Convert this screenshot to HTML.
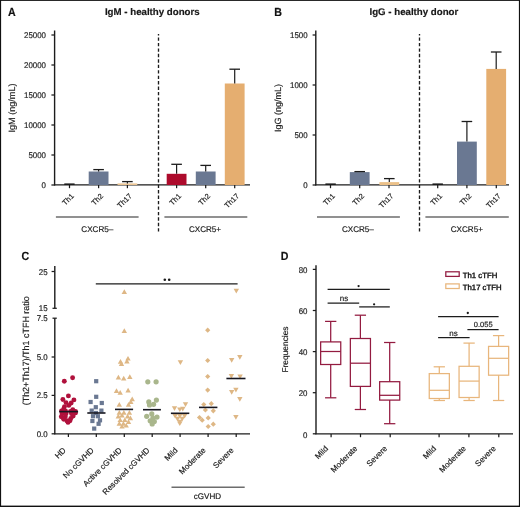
<!DOCTYPE html>
<html><head><meta charset="utf-8"><style>
html,body{margin:0;padding:0;background:#fff;}
svg{display:block;will-change:transform;}
text{font-family:"Liberation Sans", sans-serif;text-rendering:geometricPrecision;stroke-width:0.18px;}
</style></head><body>
<svg width="520" height="507" viewBox="0 0 520 507">
<rect x="0" y="0" width="520" height="507" fill="#fff"/>
<text x="0" y="0" transform="translate(7.9 15.9) scale(0.9 1)" font-size="11.8" text-anchor="start" font-weight="bold" fill="#111" stroke="#111" >A</text>
<text x="152.3" y="14.6" font-size="9.7" text-anchor="middle" font-weight="bold" fill="#1a1a1a" stroke="#1a1a1a" >IgM - healthy donors</text>
<line x1="54.6" y1="30.5" x2="54.6" y2="185.5" stroke="#1c1c1c" stroke-width="1.4" />
<line x1="54.1" y1="184.9" x2="250" y2="184.9" stroke="#1c1c1c" stroke-width="1.35" />
<line x1="51.4" y1="35" x2="54.6" y2="35" stroke="#1c1c1c" stroke-width="1.25" />
<text x="0" y="0" transform="translate(46 38.2) scale(0.95 1)" font-size="8.3" text-anchor="end" font-weight="normal" fill="#222" stroke="#222" >25000</text>
<line x1="51.4" y1="65" x2="54.6" y2="65" stroke="#1c1c1c" stroke-width="1.25" />
<text x="0" y="0" transform="translate(46 68.2) scale(0.95 1)" font-size="8.3" text-anchor="end" font-weight="normal" fill="#222" stroke="#222" >20000</text>
<line x1="51.4" y1="95" x2="54.6" y2="95" stroke="#1c1c1c" stroke-width="1.25" />
<text x="0" y="0" transform="translate(46 98.2) scale(0.95 1)" font-size="8.3" text-anchor="end" font-weight="normal" fill="#222" stroke="#222" >15000</text>
<line x1="51.4" y1="125" x2="54.6" y2="125" stroke="#1c1c1c" stroke-width="1.25" />
<text x="0" y="0" transform="translate(46 128.2) scale(0.95 1)" font-size="8.3" text-anchor="end" font-weight="normal" fill="#222" stroke="#222" >10000</text>
<line x1="51.4" y1="155" x2="54.6" y2="155" stroke="#1c1c1c" stroke-width="1.25" />
<text x="0" y="0" transform="translate(46 158.2) scale(0.95 1)" font-size="8.3" text-anchor="end" font-weight="normal" fill="#222" stroke="#222" >5000</text>
<line x1="51.4" y1="185" x2="54.6" y2="185" stroke="#1c1c1c" stroke-width="1.25" />
<text x="0" y="0" transform="translate(46 188.2) scale(0.95 1)" font-size="8.3" text-anchor="end" font-weight="normal" fill="#222" stroke="#222" >0</text>
<text x="14.8" y="108" font-size="9.1" text-anchor="middle" font-weight="normal" fill="#222" stroke="#222" transform="rotate(-90 14.8 108)" >IgM (ng/mL)</text>
<line x1="158.5" y1="34" x2="158.5" y2="231.5" stroke="#1c1c1c" stroke-width="1.35" stroke-dasharray="3.35 2.1" stroke-dashoffset="1.95"/>
<line x1="69.5" y1="185" x2="69.5" y2="188.2" stroke="#1c1c1c" stroke-width="1.25" />
<line x1="98.6" y1="185" x2="98.6" y2="188.2" stroke="#1c1c1c" stroke-width="1.25" />
<line x1="127.4" y1="185" x2="127.4" y2="188.2" stroke="#1c1c1c" stroke-width="1.25" />
<line x1="176.6" y1="185" x2="176.6" y2="188.2" stroke="#1c1c1c" stroke-width="1.25" />
<line x1="205.7" y1="185" x2="205.7" y2="188.2" stroke="#1c1c1c" stroke-width="1.25" />
<line x1="234.7" y1="185" x2="234.7" y2="188.2" stroke="#1c1c1c" stroke-width="1.25" />
<line x1="64.3" y1="184.2" x2="74.6" y2="184.2" stroke="#1c1c1c" stroke-width="1.6" />
<rect x="88.69999999999999" y="171.5" width="19.8" height="13.5" fill="#6a7892"/>
<line x1="98.6" y1="169.6" x2="98.6" y2="171.5" stroke="#1c1c1c" stroke-width="1.2" />
<line x1="93.3" y1="169.6" x2="103.89999999999999" y2="169.6" stroke="#1c1c1c" stroke-width="1.3" />
<rect x="117.5" y="183.4" width="19.8" height="1.5999999999999943" fill="#ecc594"/>
<line x1="127.4" y1="181.6" x2="127.4" y2="183.4" stroke="#1c1c1c" stroke-width="1.2" />
<line x1="122.10000000000001" y1="181.6" x2="132.70000000000002" y2="181.6" stroke="#1c1c1c" stroke-width="1.3" />
<rect x="166.7" y="173.8" width="19.8" height="11.199999999999989" fill="#ad0b2c"/>
<line x1="176.6" y1="164.3" x2="176.6" y2="173.8" stroke="#1c1c1c" stroke-width="1.2" />
<line x1="171.29999999999998" y1="164.3" x2="181.9" y2="164.3" stroke="#1c1c1c" stroke-width="1.3" />
<rect x="195.79999999999998" y="171.5" width="19.8" height="13.5" fill="#6a7892"/>
<line x1="205.7" y1="165.4" x2="205.7" y2="171.5" stroke="#1c1c1c" stroke-width="1.2" />
<line x1="200.39999999999998" y1="165.4" x2="211.0" y2="165.4" stroke="#1c1c1c" stroke-width="1.3" />
<rect x="224.79999999999998" y="83.5" width="19.8" height="101.5" fill="#e5ae70"/>
<line x1="234.7" y1="69.2" x2="234.7" y2="83.5" stroke="#1c1c1c" stroke-width="1.2" />
<line x1="229.39999999999998" y1="69.2" x2="240.0" y2="69.2" stroke="#1c1c1c" stroke-width="1.3" />
<text x="74.5" y="196.5" font-size="7.5" text-anchor="end" font-weight="normal" fill="#222" stroke="#222" transform="rotate(-45 74.5 196.5)" >Th1</text>
<text x="103.6" y="196.5" font-size="7.5" text-anchor="end" font-weight="normal" fill="#222" stroke="#222" transform="rotate(-45 103.6 196.5)" >Th2</text>
<text x="132.4" y="196.5" font-size="7.5" text-anchor="end" font-weight="normal" fill="#222" stroke="#222" transform="rotate(-45 132.4 196.5)" >Th17</text>
<text x="181.6" y="196.5" font-size="7.5" text-anchor="end" font-weight="normal" fill="#222" stroke="#222" transform="rotate(-45 181.6 196.5)" >Th1</text>
<text x="210.7" y="196.5" font-size="7.5" text-anchor="end" font-weight="normal" fill="#222" stroke="#222" transform="rotate(-45 210.7 196.5)" >Th2</text>
<text x="239.7" y="196.5" font-size="7.5" text-anchor="end" font-weight="normal" fill="#222" stroke="#222" transform="rotate(-45 239.7 196.5)" >Th17</text>
<line x1="55.9" y1="217" x2="138.6" y2="217" stroke="#6d6d6d" stroke-width="1.5" />
<line x1="164.4" y1="217" x2="247.3" y2="217" stroke="#6d6d6d" stroke-width="1.5" />
<text x="97.3" y="232.3" font-size="8.1" text-anchor="middle" font-weight="normal" fill="#222" stroke="#222" >CXCR5–</text>
<text x="205" y="232.3" font-size="8.1" text-anchor="middle" font-weight="normal" fill="#222" stroke="#222" >CXCR5+</text>
<text x="0" y="0" transform="translate(274.2 15.9) scale(0.9 1)" font-size="11.8" text-anchor="start" font-weight="bold" fill="#111" stroke="#111" >B</text>
<text x="413.9" y="14.6" font-size="9.7" text-anchor="middle" font-weight="bold" fill="#1a1a1a" stroke="#1a1a1a" >IgG - healthy donor</text>
<line x1="315.8" y1="30.5" x2="315.8" y2="185.5" stroke="#1c1c1c" stroke-width="1.4" />
<line x1="315.3" y1="184.9" x2="509" y2="184.9" stroke="#1c1c1c" stroke-width="1.35" />
<line x1="312.6" y1="35" x2="315.8" y2="35" stroke="#1c1c1c" stroke-width="1.25" />
<text x="0" y="0" transform="translate(307.6 38.2) scale(0.95 1)" font-size="8.3" text-anchor="end" font-weight="normal" fill="#222" stroke="#222" >1500</text>
<line x1="312.6" y1="85" x2="315.8" y2="85" stroke="#1c1c1c" stroke-width="1.25" />
<text x="0" y="0" transform="translate(307.6 88.2) scale(0.95 1)" font-size="8.3" text-anchor="end" font-weight="normal" fill="#222" stroke="#222" >1000</text>
<line x1="312.6" y1="135" x2="315.8" y2="135" stroke="#1c1c1c" stroke-width="1.25" />
<text x="0" y="0" transform="translate(307.6 138.2) scale(0.95 1)" font-size="8.3" text-anchor="end" font-weight="normal" fill="#222" stroke="#222" >500</text>
<line x1="312.6" y1="185" x2="315.8" y2="185" stroke="#1c1c1c" stroke-width="1.25" />
<text x="0" y="0" transform="translate(307.6 188.2) scale(0.95 1)" font-size="8.3" text-anchor="end" font-weight="normal" fill="#222" stroke="#222" >0</text>
<text x="281.3" y="108" font-size="9.0" text-anchor="middle" font-weight="normal" fill="#222" stroke="#222" transform="rotate(-90 281.3 108)" >IgG (ng/mL)</text>
<line x1="419.5" y1="34" x2="419.5" y2="231.5" stroke="#1c1c1c" stroke-width="1.35" stroke-dasharray="3.35 2.1" stroke-dashoffset="1.95"/>
<line x1="330.5" y1="185" x2="330.5" y2="188.2" stroke="#1c1c1c" stroke-width="1.25" />
<line x1="359.7" y1="185" x2="359.7" y2="188.2" stroke="#1c1c1c" stroke-width="1.25" />
<line x1="389" y1="185" x2="389" y2="188.2" stroke="#1c1c1c" stroke-width="1.25" />
<line x1="437.7" y1="185" x2="437.7" y2="188.2" stroke="#1c1c1c" stroke-width="1.25" />
<line x1="466.9" y1="185" x2="466.9" y2="188.2" stroke="#1c1c1c" stroke-width="1.25" />
<line x1="496.3" y1="185" x2="496.3" y2="188.2" stroke="#1c1c1c" stroke-width="1.25" />
<line x1="325.4" y1="184.2" x2="335.8" y2="184.2" stroke="#1c1c1c" stroke-width="1.6" />
<rect x="349.8" y="172.1" width="19.8" height="12.900000000000006" fill="#6a7892"/>
<line x1="359.7" y1="171.6" x2="359.7" y2="172.1" stroke="#1c1c1c" stroke-width="1.2" />
<line x1="354.4" y1="171.6" x2="365.0" y2="171.6" stroke="#1c1c1c" stroke-width="1.3" />
<rect x="379.40000000000003" y="182.1" width="19.8" height="2.9000000000000057" fill="#ebc088"/>
<line x1="389.3" y1="178.6" x2="389.3" y2="182.1" stroke="#1c1c1c" stroke-width="1.2" />
<line x1="384.0" y1="178.6" x2="394.6" y2="178.6" stroke="#1c1c1c" stroke-width="1.3" />
<line x1="432.5" y1="184.2" x2="442.9" y2="184.2" stroke="#1c1c1c" stroke-width="1.6" />
<rect x="457.0" y="141.6" width="19.8" height="43.400000000000006" fill="#6a7892"/>
<line x1="466.9" y1="121.5" x2="466.9" y2="141.6" stroke="#1c1c1c" stroke-width="1.2" />
<line x1="461.59999999999997" y1="121.5" x2="472.2" y2="121.5" stroke="#1c1c1c" stroke-width="1.3" />
<rect x="486.3" y="68.9" width="19.8" height="116.1" fill="#e5ae70"/>
<line x1="496.2" y1="52" x2="496.2" y2="68.9" stroke="#1c1c1c" stroke-width="1.2" />
<line x1="490.9" y1="52" x2="501.5" y2="52" stroke="#1c1c1c" stroke-width="1.3" />
<text x="335.5" y="196.5" font-size="7.5" text-anchor="end" font-weight="normal" fill="#222" stroke="#222" transform="rotate(-45 335.5 196.5)" >Th1</text>
<text x="364.7" y="196.5" font-size="7.5" text-anchor="end" font-weight="normal" fill="#222" stroke="#222" transform="rotate(-45 364.7 196.5)" >Th2</text>
<text x="394" y="196.5" font-size="7.5" text-anchor="end" font-weight="normal" fill="#222" stroke="#222" transform="rotate(-45 394 196.5)" >Th17</text>
<text x="442.7" y="196.5" font-size="7.5" text-anchor="end" font-weight="normal" fill="#222" stroke="#222" transform="rotate(-45 442.7 196.5)" >Th1</text>
<text x="471.9" y="196.5" font-size="7.5" text-anchor="end" font-weight="normal" fill="#222" stroke="#222" transform="rotate(-45 471.9 196.5)" >Th2</text>
<text x="501.3" y="196.5" font-size="7.5" text-anchor="end" font-weight="normal" fill="#222" stroke="#222" transform="rotate(-45 501.3 196.5)" >Th17</text>
<line x1="317" y1="217" x2="399.9" y2="217" stroke="#6d6d6d" stroke-width="1.5" />
<line x1="425.4" y1="217" x2="508.8" y2="217" stroke="#6d6d6d" stroke-width="1.5" />
<text x="357.9" y="232.3" font-size="8.1" text-anchor="middle" font-weight="normal" fill="#222" stroke="#222" >CXCR5–</text>
<text x="466.8" y="232.3" font-size="8.1" text-anchor="middle" font-weight="normal" fill="#222" stroke="#222" >CXCR5+</text>
<text x="0" y="0" transform="translate(21.5 260.4) scale(0.9 1)" font-size="11.8" text-anchor="start" font-weight="bold" fill="#111" stroke="#111" >C</text>
<line x1="54.8" y1="266" x2="54.8" y2="308.3" stroke="#1c1c1c" stroke-width="1.4" />
<line x1="52.5" y1="308.3" x2="56.8" y2="308.3" stroke="#1c1c1c" stroke-width="1.25" />
<line x1="54.8" y1="318.2" x2="54.8" y2="434.3" stroke="#1c1c1c" stroke-width="1.4" />
<line x1="52.5" y1="318.2" x2="56.8" y2="318.2" stroke="#1c1c1c" stroke-width="1.25" />
<line x1="51.599999999999994" y1="271.5" x2="54.8" y2="271.5" stroke="#1c1c1c" stroke-width="1.25" />
<text x="0" y="0" transform="translate(47.6 274.7) scale(0.95 1)" font-size="8.3" text-anchor="end" font-weight="normal" fill="#222" stroke="#222" >25</text>
<text x="0" y="0" transform="translate(47.6 311.0) scale(0.95 1)" font-size="8.3" text-anchor="end" font-weight="normal" fill="#222" stroke="#222" >15</text>
<text x="0" y="0" transform="translate(47.6 321.20000000000005) scale(0.95 1)" font-size="8.3" text-anchor="end" font-weight="normal" fill="#222" stroke="#222" >7.5</text>
<line x1="51.599999999999994" y1="357.0" x2="54.8" y2="357.0" stroke="#1c1c1c" stroke-width="1.25" />
<text x="0" y="0" transform="translate(47.6 359.9) scale(0.95 1)" font-size="8.3" text-anchor="end" font-weight="normal" fill="#222" stroke="#222" >5.0</text>
<line x1="51.599999999999994" y1="395.40000000000003" x2="54.8" y2="395.40000000000003" stroke="#1c1c1c" stroke-width="1.25" />
<text x="0" y="0" transform="translate(47.6 398.3) scale(0.95 1)" font-size="8.3" text-anchor="end" font-weight="normal" fill="#222" stroke="#222" >2.5</text>
<line x1="51.599999999999994" y1="433.8" x2="54.8" y2="433.8" stroke="#1c1c1c" stroke-width="1.25" />
<text x="0" y="0" transform="translate(47.6 436.7) scale(0.95 1)" font-size="8.3" text-anchor="end" font-weight="normal" fill="#222" stroke="#222" >0.0</text>
<line x1="54.3" y1="433.8" x2="250" y2="433.8" stroke="#1c1c1c" stroke-width="1.35" />
<line x1="68.4" y1="433.8" x2="68.4" y2="437.0" stroke="#1c1c1c" stroke-width="1.25" />
<line x1="96.3" y1="433.8" x2="96.3" y2="437.0" stroke="#1c1c1c" stroke-width="1.25" />
<line x1="124.3" y1="433.8" x2="124.3" y2="437.0" stroke="#1c1c1c" stroke-width="1.25" />
<line x1="152.2" y1="433.8" x2="152.2" y2="437.0" stroke="#1c1c1c" stroke-width="1.25" />
<line x1="180.1" y1="433.8" x2="180.1" y2="437.0" stroke="#1c1c1c" stroke-width="1.25" />
<line x1="208.1" y1="433.8" x2="208.1" y2="437.0" stroke="#1c1c1c" stroke-width="1.25" />
<line x1="236.2" y1="433.8" x2="236.2" y2="437.0" stroke="#1c1c1c" stroke-width="1.25" />
<text x="28.8" y="350.8" font-size="8.95" text-anchor="middle" font-weight="normal" fill="#222" stroke="#222" transform="rotate(-90 28.8 350.8)" >(Th2+Th17)/Th1 cTFH ratio</text>
<line x1="95.8" y1="283.8" x2="237.6" y2="283.8" stroke="#1c1c1c" stroke-width="1.3" />
<circle cx="64.3" cy="381.3" r="2.45" fill="#b0113c"/>
<circle cx="72.6" cy="377.7" r="2.45" fill="#b0113c"/>
<circle cx="68.4" cy="395.9" r="2.45" fill="#b0113c"/>
<circle cx="62.9" cy="399.5" r="2.45" fill="#b0113c"/>
<circle cx="73.9" cy="399.9" r="2.45" fill="#b0113c"/>
<circle cx="66" cy="402.6" r="2.45" fill="#b0113c"/>
<circle cx="71.2" cy="403" r="2.45" fill="#b0113c"/>
<circle cx="64.5" cy="406.6" r="2.45" fill="#b0113c"/>
<circle cx="68.8" cy="405.4" r="2.45" fill="#b0113c"/>
<circle cx="63.7" cy="408.9" r="2.45" fill="#b0113c"/>
<circle cx="72.8" cy="409.7" r="2.45" fill="#b0113c"/>
<circle cx="61.5" cy="411" r="2.45" fill="#b0113c"/>
<circle cx="75.5" cy="411.5" r="2.45" fill="#b0113c"/>
<circle cx="62.1" cy="413.7" r="2.45" fill="#b0113c"/>
<circle cx="66" cy="413.7" r="2.45" fill="#b0113c"/>
<circle cx="71.6" cy="413.7" r="2.45" fill="#b0113c"/>
<circle cx="75.5" cy="412.9" r="2.45" fill="#b0113c"/>
<circle cx="61.3" cy="416.8" r="2.45" fill="#b0113c"/>
<circle cx="65.3" cy="416.8" r="2.45" fill="#b0113c"/>
<circle cx="73.2" cy="416" r="2.45" fill="#b0113c"/>
<circle cx="63.7" cy="419.2" r="2.45" fill="#b0113c"/>
<circle cx="70.8" cy="418.4" r="2.45" fill="#b0113c"/>
<circle cx="66.8" cy="420.8" r="2.45" fill="#b0113c"/>
<circle cx="70" cy="420.8" r="2.45" fill="#b0113c"/>
<circle cx="68" cy="422.4" r="2.45" fill="#b0113c"/>
<circle cx="70.5" cy="411.5" r="2.45" fill="#b0113c"/>
<circle cx="65.5" cy="411" r="2.45" fill="#b0113c"/>
<line x1="59.2" y1="411.6" x2="78.1" y2="411.6" stroke="#161620" stroke-width="1.6" />
<rect x="94.10" y="379.10" width="4.2" height="4.2" fill="#6a7892"/>
<rect x="94.10" y="394.70" width="4.2" height="4.2" fill="#6a7892"/>
<rect x="88.50" y="399.90" width="4.2" height="4.2" fill="#6a7892"/>
<rect x="99.70" y="400.90" width="4.2" height="4.2" fill="#6a7892"/>
<rect x="93.70" y="405.10" width="4.2" height="4.2" fill="#6a7892"/>
<rect x="89.60" y="408.50" width="4.2" height="4.2" fill="#6a7892"/>
<rect x="99.30" y="408.50" width="4.2" height="4.2" fill="#6a7892"/>
<rect x="90.90" y="414.10" width="4.2" height="4.2" fill="#6a7892"/>
<rect x="95.80" y="414.10" width="4.2" height="4.2" fill="#6a7892"/>
<rect x="90.30" y="418.90" width="4.2" height="4.2" fill="#6a7892"/>
<rect x="97.90" y="418.20" width="4.2" height="4.2" fill="#6a7892"/>
<rect x="96.50" y="421.70" width="4.2" height="4.2" fill="#6a7892"/>
<rect x="92.10" y="426.50" width="4.2" height="4.2" fill="#6a7892"/>
<rect x="93.90" y="410.90" width="4.2" height="4.2" fill="#6a7892"/>
<line x1="87.3" y1="413" x2="105.5" y2="413" stroke="#161620" stroke-width="1.6" />
<polygon points="124.30,289.28 127.00,293.98 121.60,293.98" fill="#deb785"/>
<polygon points="124.30,328.18 127.00,332.88 121.60,332.88" fill="#deb785"/>
<polygon points="120.50,359.08 123.20,363.78 117.80,363.78" fill="#deb785"/>
<polygon points="121.50,361.18 124.20,365.88 118.80,365.88" fill="#deb785"/>
<polygon points="128.00,355.88 130.70,360.58 125.30,360.58" fill="#deb785"/>
<polygon points="126.90,358.68 129.60,363.38 124.20,363.38" fill="#deb785"/>
<polygon points="118.40,374.78 121.10,379.48 115.70,379.48" fill="#deb785"/>
<polygon points="123.70,375.68 126.40,380.38 121.00,380.38" fill="#deb785"/>
<polygon points="129.80,374.28 132.50,378.98 127.10,378.98" fill="#deb785"/>
<polygon points="116.50,388.18 119.20,392.88 113.80,392.88" fill="#deb785"/>
<polygon points="120.20,390.08 122.90,394.78 117.50,394.78" fill="#deb785"/>
<polygon points="128.10,387.78 130.80,392.48 125.40,392.48" fill="#deb785"/>
<polygon points="132.20,396.58 134.90,401.28 129.50,401.28" fill="#deb785"/>
<polygon points="130.80,399.28 133.50,403.98 128.10,403.98" fill="#deb785"/>
<polygon points="119.30,402.08 122.00,406.78 116.60,406.78" fill="#deb785"/>
<polygon points="128.50,402.08 131.20,406.78 125.80,406.78" fill="#deb785"/>
<polygon points="119.30,409.98 122.00,414.68 116.60,414.68" fill="#deb785"/>
<polygon points="123.90,409.98 126.60,414.68 121.20,414.68" fill="#deb785"/>
<polygon points="129.40,409.98 132.10,414.68 126.70,414.68" fill="#deb785"/>
<polygon points="118.30,413.68 121.00,418.38 115.60,418.38" fill="#deb785"/>
<polygon points="122.00,412.78 124.70,417.48 119.30,417.48" fill="#deb785"/>
<polygon points="127.60,413.68 130.30,418.38 124.90,418.38" fill="#deb785"/>
<polygon points="130.40,415.48 133.10,420.18 127.70,420.18" fill="#deb785"/>
<polygon points="120.20,417.38 122.90,422.08 117.50,422.08" fill="#deb785"/>
<polygon points="124.80,417.38 127.50,422.08 122.10,422.08" fill="#deb785"/>
<polygon points="128.50,419.18 131.20,423.88 125.80,423.88" fill="#deb785"/>
<polygon points="119.30,421.08 122.00,425.78 116.60,425.78" fill="#deb785"/>
<polygon points="123.40,421.08 126.10,425.78 120.70,425.78" fill="#deb785"/>
<polygon points="122.00,423.88 124.70,428.58 119.30,428.58" fill="#deb785"/>
<polygon points="126.20,422.88 128.90,427.58 123.50,427.58" fill="#deb785"/>
<line x1="115" y1="409.4" x2="133.1" y2="409.4" stroke="#161620" stroke-width="1.6" />
<circle cx="147.8" cy="381.8" r="2.6" fill="#a9b68c"/>
<circle cx="156.1" cy="381.8" r="2.6" fill="#a9b68c"/>
<circle cx="156.4" cy="400.1" r="2.6" fill="#a9b68c"/>
<circle cx="148.8" cy="401.9" r="2.6" fill="#a9b68c"/>
<circle cx="149.5" cy="405" r="2.6" fill="#a9b68c"/>
<circle cx="153.6" cy="404.3" r="2.6" fill="#a9b68c"/>
<circle cx="151.8" cy="413.9" r="2.6" fill="#a9b68c"/>
<circle cx="146.7" cy="416.3" r="2.6" fill="#a9b68c"/>
<circle cx="157" cy="417.1" r="2.6" fill="#a9b68c"/>
<circle cx="152.9" cy="418" r="2.6" fill="#a9b68c"/>
<circle cx="150.2" cy="420.8" r="2.6" fill="#a9b68c"/>
<circle cx="154.3" cy="421.5" r="2.6" fill="#a9b68c"/>
<circle cx="152.2" cy="424" r="2.6" fill="#a9b68c"/>
<line x1="143" y1="409.7" x2="160.9" y2="409.7" stroke="#161620" stroke-width="1.6" />
<polygon points="177.70,360.22 183.10,360.22 180.40,364.92" fill="#deb785"/>
<polygon points="171.80,406.22 177.20,406.22 174.50,410.92" fill="#deb785"/>
<polygon points="177.10,407.42 182.50,407.42 179.80,412.12" fill="#deb785"/>
<polygon points="180.10,406.82 185.50,406.82 182.80,411.52" fill="#deb785"/>
<polygon points="182.80,402.32 188.20,402.32 185.50,407.02" fill="#deb785"/>
<polygon points="172.40,413.92 177.80,413.92 175.10,418.62" fill="#deb785"/>
<polygon points="177.10,413.92 182.50,413.92 179.80,418.62" fill="#deb785"/>
<polygon points="181.90,413.92 187.30,413.92 184.60,418.62" fill="#deb785"/>
<polygon points="174.80,416.82 180.20,416.82 177.50,421.52" fill="#deb785"/>
<polygon points="179.50,416.82 184.90,416.82 182.20,421.52" fill="#deb785"/>
<polygon points="177.10,419.82 182.50,419.82 179.80,424.52" fill="#deb785"/>
<polygon points="177.10,421.42 182.50,421.42 179.80,426.12" fill="#deb785"/>
<line x1="170.9" y1="413.3" x2="189.3" y2="413.3" stroke="#161620" stroke-width="1.6" />
<polygon points="207.70,327.60 210.30,330.20 207.70,332.80 205.10,330.20" fill="#deb785"/>
<polygon points="207.70,357.90 210.30,360.50 207.70,363.10 205.10,360.50" fill="#deb785"/>
<polygon points="207.70,373.90 210.30,376.50 207.70,379.10 205.10,376.50" fill="#deb785"/>
<polygon points="207.70,387.50 210.30,390.10 207.70,392.70 205.10,390.10" fill="#deb785"/>
<polygon points="203.80,401.90 206.40,404.50 203.80,407.10 201.20,404.50" fill="#deb785"/>
<polygon points="211.30,401.10 213.90,403.70 211.30,406.30 208.70,403.70" fill="#deb785"/>
<polygon points="205.40,407.40 208.00,410.00 205.40,412.60 202.80,410.00" fill="#deb785"/>
<polygon points="213.30,408.20 215.90,410.80 213.30,413.40 210.70,410.80" fill="#deb785"/>
<polygon points="199.50,414.90 202.10,417.50 199.50,420.10 196.90,417.50" fill="#deb785"/>
<polygon points="202.20,417.60 204.80,420.20 202.20,422.80 199.60,420.20" fill="#deb785"/>
<polygon points="208.20,415.30 210.80,417.90 208.20,420.50 205.60,417.90" fill="#deb785"/>
<polygon points="213.30,421.60 215.90,424.20 213.30,426.80 210.70,424.20" fill="#deb785"/>
<polygon points="208.20,423.90 210.80,426.50 208.20,429.10 205.60,426.50" fill="#deb785"/>
<line x1="199" y1="407.4" x2="217.4" y2="407.4" stroke="#161620" stroke-width="1.6" />
<polygon points="233.60,288.82 239.00,288.82 236.30,293.52" fill="#deb785"/>
<polygon points="229.00,358.12 234.40,358.12 231.70,362.82" fill="#deb785"/>
<polygon points="237.10,355.12 242.50,355.12 239.80,359.82" fill="#deb785"/>
<polygon points="228.70,374.12 234.10,374.12 231.40,378.82" fill="#deb785"/>
<polygon points="237.40,374.62 242.80,374.62 240.10,379.32" fill="#deb785"/>
<polygon points="229.00,390.02 234.40,390.02 231.70,394.72" fill="#deb785"/>
<polygon points="233.20,387.82 238.60,387.82 235.90,392.52" fill="#deb785"/>
<polygon points="237.10,397.02 242.50,397.02 239.80,401.72" fill="#deb785"/>
<polygon points="233.20,415.12 238.60,415.12 235.90,419.82" fill="#deb785"/>
<line x1="226.4" y1="378.5" x2="245.5" y2="378.5" stroke="#161620" stroke-width="1.6" />
<text x="66.4" y="450.8" font-size="8" text-anchor="end" font-weight="normal" fill="#222" stroke="#222" transform="rotate(-45 66.4 450.8)" >HD</text>
<text x="94.3" y="450.8" font-size="8" text-anchor="end" font-weight="normal" fill="#222" stroke="#222" transform="rotate(-45 94.3 450.8)" >No cGVHD</text>
<text x="122.3" y="450.8" font-size="8" text-anchor="end" font-weight="normal" fill="#222" stroke="#222" transform="rotate(-45 122.3 450.8)" >Active cGVHD</text>
<text x="150.2" y="450.8" font-size="8" text-anchor="end" font-weight="normal" fill="#222" stroke="#222" transform="rotate(-45 150.2 450.8)" >Resolved cGVHD</text>
<text x="178.1" y="450.8" font-size="8" text-anchor="end" font-weight="normal" fill="#222" stroke="#222" transform="rotate(-45 178.1 450.8)" >Mild</text>
<text x="206.1" y="450.8" font-size="8" text-anchor="end" font-weight="normal" fill="#222" stroke="#222" transform="rotate(-45 206.1 450.8)" >Moderate</text>
<text x="234.2" y="450.8" font-size="8" text-anchor="end" font-weight="normal" fill="#222" stroke="#222" transform="rotate(-45 234.2 450.8)" >Severe</text>
<line x1="171.5" y1="487.3" x2="244.7" y2="487.3" stroke="#6d6d6d" stroke-width="1.5" />
<text x="207.5" y="499.3" font-size="8.1" text-anchor="middle" font-weight="normal" fill="#222" stroke="#222" >cGVHD</text>
<text x="0" y="0" transform="translate(280.8 260.2) scale(0.9 1)" font-size="11.8" text-anchor="start" font-weight="bold" fill="#111" stroke="#111" >D</text>
<line x1="316" y1="265.3" x2="316" y2="434.3" stroke="#1c1c1c" stroke-width="1.4" />
<line x1="315.5" y1="433.9" x2="513" y2="433.9" stroke="#1c1c1c" stroke-width="1.35" />
<line x1="312.8" y1="269.4" x2="316" y2="269.4" stroke="#1c1c1c" stroke-width="1.25" />
<text x="0" y="0" transform="translate(307.4 273.09999999999997) scale(0.95 1)" font-size="8.3" text-anchor="end" font-weight="normal" fill="#222" stroke="#222" >80</text>
<line x1="312.8" y1="310.5" x2="316" y2="310.5" stroke="#1c1c1c" stroke-width="1.25" />
<text x="0" y="0" transform="translate(307.4 314.2) scale(0.95 1)" font-size="8.3" text-anchor="end" font-weight="normal" fill="#222" stroke="#222" >60</text>
<line x1="312.8" y1="351.59999999999997" x2="316" y2="351.59999999999997" stroke="#1c1c1c" stroke-width="1.25" />
<text x="0" y="0" transform="translate(307.4 355.29999999999995) scale(0.95 1)" font-size="8.3" text-anchor="end" font-weight="normal" fill="#222" stroke="#222" >40</text>
<line x1="312.8" y1="392.7" x2="316" y2="392.7" stroke="#1c1c1c" stroke-width="1.25" />
<text x="0" y="0" transform="translate(307.4 396.4) scale(0.95 1)" font-size="8.3" text-anchor="end" font-weight="normal" fill="#222" stroke="#222" >20</text>
<line x1="312.8" y1="433.79999999999995" x2="316" y2="433.79999999999995" stroke="#1c1c1c" stroke-width="1.25" />
<text x="0" y="0" transform="translate(307.4 437.49999999999994) scale(0.95 1)" font-size="8.3" text-anchor="end" font-weight="normal" fill="#222" stroke="#222" >0</text>
<text x="287.8" y="349.5" font-size="8.4" text-anchor="middle" font-weight="normal" fill="#222" stroke="#222" transform="rotate(-90 287.8 349.5)" >Frequencies</text>
<line x1="331.1" y1="433.9" x2="331.1" y2="437.2" stroke="#1c1c1c" stroke-width="1.25" />
<line x1="360.5" y1="433.9" x2="360.5" y2="437.2" stroke="#1c1c1c" stroke-width="1.25" />
<line x1="390.2" y1="433.9" x2="390.2" y2="437.2" stroke="#1c1c1c" stroke-width="1.25" />
<line x1="439.1" y1="433.9" x2="439.1" y2="437.2" stroke="#1c1c1c" stroke-width="1.25" />
<line x1="468.9" y1="433.9" x2="468.9" y2="437.2" stroke="#1c1c1c" stroke-width="1.25" />
<line x1="498.8" y1="433.9" x2="498.8" y2="437.2" stroke="#1c1c1c" stroke-width="1.25" />
<text x="328.6" y="449" font-size="8" text-anchor="end" font-weight="normal" fill="#222" stroke="#222" transform="rotate(-45 328.6 449)" >Mild</text>
<text x="358.0" y="449" font-size="8" text-anchor="end" font-weight="normal" fill="#222" stroke="#222" transform="rotate(-45 358.0 449)" >Moderate</text>
<text x="387.7" y="449" font-size="8" text-anchor="end" font-weight="normal" fill="#222" stroke="#222" transform="rotate(-45 387.7 449)" >Severe</text>
<text x="436.6" y="449" font-size="8" text-anchor="end" font-weight="normal" fill="#222" stroke="#222" transform="rotate(-45 436.6 449)" >Mild</text>
<text x="466.4" y="449" font-size="8" text-anchor="end" font-weight="normal" fill="#222" stroke="#222" transform="rotate(-45 466.4 449)" >Moderate</text>
<text x="496.3" y="449" font-size="8" text-anchor="end" font-weight="normal" fill="#222" stroke="#222" transform="rotate(-45 496.3 449)" >Severe</text>
<g stroke="#931b40" stroke-width="1.25" fill="none">
<rect x="320.65" y="341.9" width="20.1" height="22.60"/>
<line x1="320.65" y1="351.5" x2="340.75" y2="351.5"/>
<line x1="330.7" y1="321.4" x2="330.7" y2="341.9"/>
<line x1="330.7" y1="364.5" x2="330.7" y2="397.8"/>
<line x1="325.05" y1="321.4" x2="336.35" y2="321.4"/>
<line x1="325.05" y1="397.8" x2="336.35" y2="397.8"/>
</g>
<g stroke="#931b40" stroke-width="1.25" fill="none">
<rect x="350.35" y="338.5" width="20.1" height="47.90"/>
<line x1="350.35" y1="363.2" x2="370.45" y2="363.2"/>
<line x1="360.4" y1="315.2" x2="360.4" y2="338.5"/>
<line x1="360.4" y1="386.4" x2="360.4" y2="409.5"/>
<line x1="354.75" y1="315.2" x2="366.05" y2="315.2"/>
<line x1="354.75" y1="409.5" x2="366.05" y2="409.5"/>
</g>
<g stroke="#931b40" stroke-width="1.25" fill="none">
<rect x="379.65" y="381.7" width="20.1" height="18.40"/>
<line x1="379.65" y1="395.3" x2="399.75" y2="395.3"/>
<line x1="389.7" y1="342.5" x2="389.7" y2="381.7"/>
<line x1="389.7" y1="400.1" x2="389.7" y2="423.7"/>
<line x1="384.05" y1="342.5" x2="395.35" y2="342.5"/>
<line x1="384.05" y1="423.7" x2="395.35" y2="423.7"/>
</g>
<g stroke="#e8b67c" stroke-width="1.25" fill="none">
<rect x="429.25" y="373.6" width="20.1" height="24.90"/>
<line x1="429.25" y1="390.3" x2="449.35" y2="390.3"/>
<line x1="439.3" y1="366.8" x2="439.3" y2="373.6"/>
<line x1="439.3" y1="398.5" x2="439.3" y2="400.5"/>
<line x1="433.65" y1="366.8" x2="444.95" y2="366.8"/>
<line x1="433.65" y1="400.5" x2="444.95" y2="400.5"/>
</g>
<g stroke="#e8b67c" stroke-width="1.25" fill="none">
<rect x="459.05" y="366.3" width="20.1" height="31.20"/>
<line x1="459.05" y1="381.1" x2="479.15" y2="381.1"/>
<line x1="469.1" y1="343.1" x2="469.1" y2="366.3"/>
<line x1="469.1" y1="397.5" x2="469.1" y2="400.5"/>
<line x1="463.45" y1="343.1" x2="474.75" y2="343.1"/>
<line x1="463.45" y1="400.5" x2="474.75" y2="400.5"/>
</g>
<g stroke="#e8b67c" stroke-width="1.25" fill="none">
<rect x="488.55" y="346.4" width="20.1" height="28.80"/>
<line x1="488.55" y1="358.3" x2="508.65" y2="358.3"/>
<line x1="498.6" y1="335.6" x2="498.6" y2="346.4"/>
<line x1="498.6" y1="375.2" x2="498.6" y2="400.5"/>
<line x1="492.95" y1="335.6" x2="504.25" y2="335.6"/>
<line x1="492.95" y1="400.5" x2="504.25" y2="400.5"/>
</g>
<circle cx="164.8" cy="279.7" r="1.3" fill="#1a1a1a"/>
<circle cx="169.2" cy="279.7" r="1.3" fill="#1a1a1a"/>
<line x1="327.6" y1="289.4" x2="389.8" y2="289.4" stroke="#1c1c1c" stroke-width="1.25" />
<line x1="327.6" y1="303.2" x2="359.2" y2="303.2" stroke="#1c1c1c" stroke-width="1.25" />
<line x1="359.2" y1="306.9" x2="389.8" y2="306.9" stroke="#1c1c1c" stroke-width="1.25" />
<circle cx="358.6" cy="286.1" r="1.15" fill="#1a1a1a"/>
<text x="344" y="301.0" font-size="8" text-anchor="middle" font-weight="normal" fill="#222" stroke="#222" >ns</text>
<circle cx="374.1" cy="304.3" r="1.15" fill="#1a1a1a"/>
<line x1="438.1" y1="316.5" x2="498.6" y2="316.5" stroke="#1c1c1c" stroke-width="1.25" />
<line x1="438.1" y1="337.6" x2="469.6" y2="337.6" stroke="#1c1c1c" stroke-width="1.25" />
<line x1="467.4" y1="329.6" x2="498.6" y2="329.6" stroke="#1c1c1c" stroke-width="1.25" />
<circle cx="467.8" cy="313.0" r="1.15" fill="#1a1a1a"/>
<text x="453.6" y="335.6" font-size="8" text-anchor="middle" font-weight="normal" fill="#222" stroke="#222" >ns</text>
<text x="483.2" y="327.3" font-size="7.5" text-anchor="middle" font-weight="normal" fill="#222" stroke="#222" >0.055</text>
<rect x="445.8" y="271.8" width="13.4" height="4.6" fill="none" stroke="#931b40" stroke-width="1.25"/>
<rect x="445.8" y="283.9" width="13.4" height="4.6" fill="none" stroke="#e8b67c" stroke-width="1.25"/>
<text x="462.8" y="277.9" font-size="7.75" text-anchor="start" font-weight="normal" fill="#111" stroke="#111" style="stroke-width:0.4px">Th1 cTFH</text>
<text x="462.8" y="290.0" font-size="7.75" text-anchor="start" font-weight="normal" fill="#111" stroke="#111" style="stroke-width:0.4px">Th17 cTFH</text>
<rect x="0" y="0" width="520" height="0.9" fill="#111"/>
<rect x="0" y="0" width="1.1" height="507" fill="#111"/>
<rect x="518.9" y="0" width="1.1" height="507" fill="#111"/>
<rect x="0" y="505.6" width="520" height="1.4" fill="#111"/>
</svg>
</body></html>
